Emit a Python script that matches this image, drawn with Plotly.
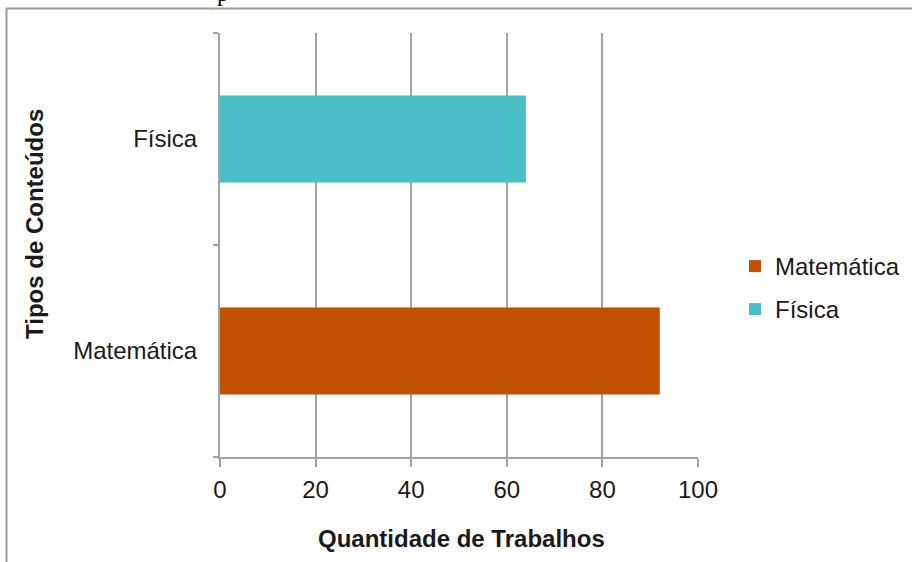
import plotly.graph_objects as go

# Number of works per content type
categorias = ["Matemática", "Física"]
valores = [92, 64]
cores = ["#C05000", "#4ABEC6"]

W, H = 912, 562
L, R, T, B = 220, 214, 33, 105
plot_w = W - L - R
plot_h = H - T - B


def px_x(p):
    return (p - L) / plot_w


def px_y(p):
    return (H - B - p) / plot_h


grey = "#a3a3a3"
font = "Liberation Sans, Arial, sans-serif"
txt = "#1a1a1a"
FS = 24

# legend entry top positions (pixels)
leg_tops = [244, 287]

fig = go.Figure()
for i, (cat, val, cor) in enumerate(zip(categorias, valores, cores)):
    fig.add_trace(go.Bar(
        x=[val], y=[cat], name=cat, orientation="h",
        marker=dict(color=cor, line=dict(width=0)),
        width=0.41,
        legend="legend" if i == 0 else f"legend{i + 1}",
    ))

legend_common = dict(
    xanchor="left", yanchor="top",
    font=dict(size=FS, color=txt, family=font),
    itemwidth=30, bgcolor="rgba(0,0,0,0)",
)

fig.update_layout(
    width=W, height=H,
    margin=dict(l=L, r=R, t=T, b=B, autoexpand=False),
    paper_bgcolor="white", plot_bgcolor="white",
    barmode="overlay",
    font=dict(family=font, size=FS, color=txt),
    showlegend=True,
    legend=dict(x=px_x(735), y=px_y(leg_tops[0]), **legend_common),
    legend2=dict(x=px_x(735), y=px_y(leg_tops[1]), **legend_common),
    xaxis=dict(
        range=[0, 100], dtick=20, tick0=0,
        showgrid=True, gridcolor=grey, gridwidth=2,
        showline=True, linecolor=grey, linewidth=2,
        ticks="outside", ticklen=8, tickwidth=2, tickcolor=grey,
        zeroline=False, ticklabelstandoff=2,
        tickfont=dict(size=FS, color=txt),
    ),
    yaxis=dict(
        type="category", categoryorder="array", categoryarray=categorias,
        showgrid=False,
        showline=True, linecolor=grey, linewidth=2,
        ticks="outside", tickson="boundaries", ticklen=5, tickwidth=2, tickcolor=grey,
        ticklabelstandoff=16,
        tickfont=dict(size=FS, color=txt),
    ),
)

# Axis titles
fig.add_annotation(
    text="<b>Quantidade de Trabalhos</b>", xref="paper", yref="paper",
    x=px_x(461), y=px_y(538), xanchor="center", yanchor="middle",
    showarrow=False, font=dict(size=FS, family=font, color=txt),
)
fig.add_annotation(
    text="<b>Tipos de Conteúdos</b>", xref="paper", yref="paper",
    x=px_x(34), y=px_y(224), xanchor="center", yanchor="middle",
    textangle=-90, showarrow=False,
    font=dict(size=FS, family=font, color=txt),
)

# Fragment of surrounding text above the frame
fig.add_annotation(
    text="p", xref="paper", yref="paper",
    x=px_x(223), y=px_y(-7), xanchor="center", yanchor="middle",
    showarrow=False, font=dict(size=24, family="Liberation Serif, serif", color="black"),
)

# Frame around the chart
fig.add_shape(type="line", xref="paper", yref="paper",
              x0=px_x(6.5), x1=px_x(6.5), y0=px_y(8), y1=px_y(H + 5),
              line=dict(color="#9c9c9c", width=2))
fig.add_shape(type="line", xref="paper", yref="paper",
              x0=px_x(6), x1=px_x(W + 5), y0=px_y(8.5), y1=px_y(8.5),
              line=dict(color="#9c9c9c", width=2))

fig.write_html("out.html")
